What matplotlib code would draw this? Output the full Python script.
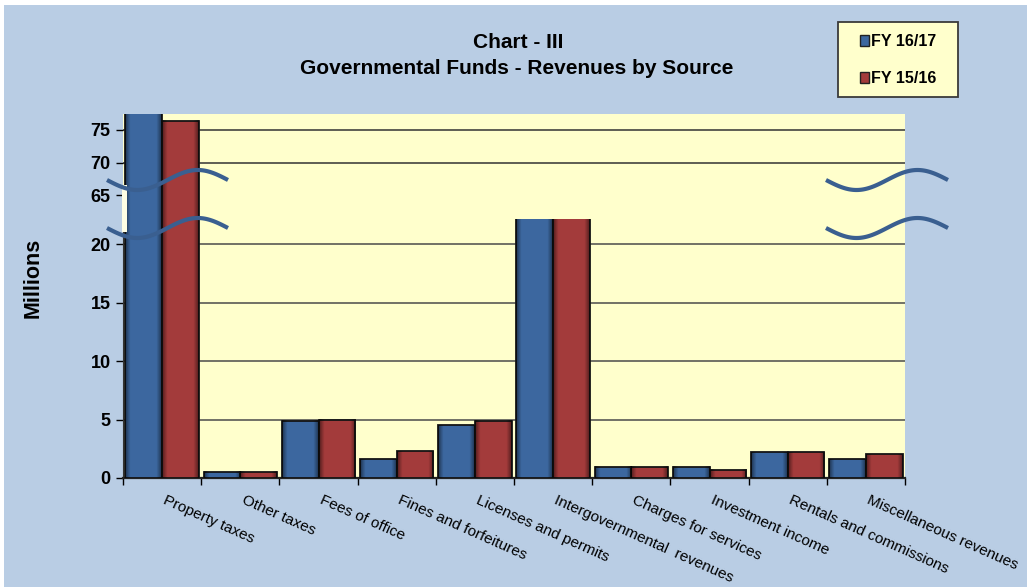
import numpy as np
import matplotlib
matplotlib.use("Agg")
import matplotlib.pyplot as plt
from matplotlib.patches import Patch, Rectangle
from matplotlib.lines import Line2D

plt.rcParams['font.family'] = ['Liberation Sans', 'DejaVu Sans']

# data (millions)
categories = ["Property taxes", "Other taxes", "Fees of office", "Fines and forfeitures",
              "Licenses and permits", "Intergovernmental  revenues", "Charges for services",
              "Investment income", "Rentals and commissions", "Miscellaneous revenues"]
fy1617 = [79.0, 0.55, 4.9, 1.6, 4.5, 25.0, 0.95, 0.95, 2.2, 1.6]
fy1516 = [76.4, 0.55, 5.0, 2.3, 4.9, 25.0, 0.95, 0.7, 2.2, 2.05]
series_names = ["FY 16/17", "FY 15/16"]

low_ticks = [0, 5, 10, 15, 20]
high_ticks = [65, 70, 75]

BG = "#b9cde4"
PLOT = "#ffffcc"
BLUE = "#3c679f"
RED = "#a33b3b"
WAVE = "#3a5f90"

W, H = 1027, 587
fig = plt.figure(figsize=(W / 100, H / 100), dpi=100)
fig.patch.set_facecolor("white")
fig.add_artist(Rectangle((4 / W, 0), 1, 1 - 5 / H, transform=fig.transFigure,
                         facecolor=BG, edgecolor="none", zorder=-10))

left, right = 123 / W, 905 / W
y0, ymid, ytop = 1 - 478 / H, 1 - 219 / H, 1 - 114 / H
ax_lo = fig.add_axes([left, y0, right - left, ymid - y0])
ax_hi = fig.add_axes([left, ymid, right - left, ytop - ymid])

# shading overlay for the bevelled bar look (dark at the sides)
g = np.linspace(0, 1, 64)
shade = np.zeros((1, 64, 4))
shade[0, :, 3] = 0.5 * np.clip(1 - np.minimum(g, 1 - g) / 0.14, 0, 1)

x = np.arange(len(categories))
bw = 0.47
for ax in (ax_lo, ax_hi):
    ax.set_facecolor(PLOT)
    b1 = ax.bar(x - bw / 2, fy1617, bw, color=BLUE, edgecolor="#151515", linewidth=1.3, zorder=3)
    b2 = ax.bar(x + bw / 2, fy1516, bw, color=RED, edgecolor="#151515", linewidth=1.3, zorder=3)
    for rect in list(b1) + list(b2):
        bx, by = rect.get_x(), rect.get_y()
        ax.imshow(shade, extent=[bx, bx + rect.get_width(), by, by + rect.get_height()],
                  aspect="auto", zorder=3.5, interpolation="bilinear")
    ax.set_xlim(-0.5, len(categories) - 0.5)
    for s in ("top", "right"):
        ax.spines[s].set_visible(False)
    ax.tick_params(axis="y", labelsize=13, length=5, width=1, direction="out", pad=4)

ax_lo.set_ylim(0, 22.15)
ax_lo.set_yticks(low_ticks)
ax_lo.set_yticklabels([str(t) for t in low_ticks], fontweight="bold")
for t in low_ticks[1:]:
    ax_lo.axhline(t, color="#4a4a4a", linewidth=1.1, zorder=1)
ax_lo.set_xticks(np.arange(len(categories) + 1) - 0.5)
ax_lo.set_xticklabels([])
ax_lo.tick_params(axis="x", which="major", length=5, width=1)
ax_lo.set_xticks(x + 0.06, minor=True)
ax_lo.set_xticklabels(categories, minor=True, rotation=-24, ha="left", va="top",
                      rotation_mode="anchor", fontsize=11)
ax_lo.tick_params(axis="x", which="minor", length=0, pad=11)
ax_lo.spines["left"].set_color("#333333")
ax_lo.spines["bottom"].set_color("#222222")
ax_lo.spines["bottom"].set_linewidth(1.6)

ax_hi.set_ylim(61.4, 77.4)
ax_hi.set_yticks(high_ticks)
ax_hi.set_yticklabels([str(t) for t in high_ticks], fontweight="bold")
for t in high_ticks[1:]:
    ax_hi.axhline(t, color="#333333", linewidth=1.1, zorder=1)
ax_hi.set_xticks([])
ax_hi.spines["bottom"].set_visible(False)
ax_hi.spines["left"].set_visible(False)

# light patch where the axis is broken
fig.add_artist(Rectangle((122 / W, 1 - 232 / H), 5 / W, 47 / H, transform=fig.transFigure,
                         facecolor="#fdfde4", edgecolor="none", zorder=15))

fig.text(33 / W, 1 - 278 / H, "Millions", rotation=90, ha="center", va="center",
         fontsize=15.5, fontweight="bold")

fig.text(518 / W, 1 - 43 / H, "Chart - III", ha="center", va="center",
         fontsize=15, fontweight="bold")
fig.text(517 / W, 1 - 68 / H, "Governmental Funds - Revenues by Source", ha="center",
         va="center", fontsize=15, fontweight="bold")

# legend box
fig.add_artist(Rectangle((838 / W, 1 - 97 / H), 120 / W, 75 / H, transform=fig.transFigure,
                         facecolor=PLOT, edgecolor="#3a3a3a", linewidth=1.3, zorder=5))
handles = [Patch(facecolor=BLUE, edgecolor="#222222"), Patch(facecolor=RED, edgecolor="#222222")]
leg = fig.legend(handles, series_names, loc="center left", bbox_to_anchor=(852 / W, 1 - 60 / H),
                 frameon=False, handlelength=0.55, handleheight=0.7,
                 handletextpad=0.15, labelspacing=1.35, borderpad=0,
                 prop={"weight": "bold", "size": 11.5})
leg.set_zorder(6)

# axis break marks
t = np.linspace(0, 1, 80)
for x0, x1 in ((107, 228), (826, 948)):
    for yc in (180, 228):
        xs = (x0 + (x1 - x0) * t) / W
        ys = 1 - (yc + 10 * np.sin(2 * np.pi * t)) / H
        fig.add_artist(Line2D(xs, ys, color=WAVE, linewidth=3, solid_capstyle="butt",
                              transform=fig.transFigure, zorder=20))

fig.savefig("out.png", dpi=100, facecolor=fig.get_facecolor())
